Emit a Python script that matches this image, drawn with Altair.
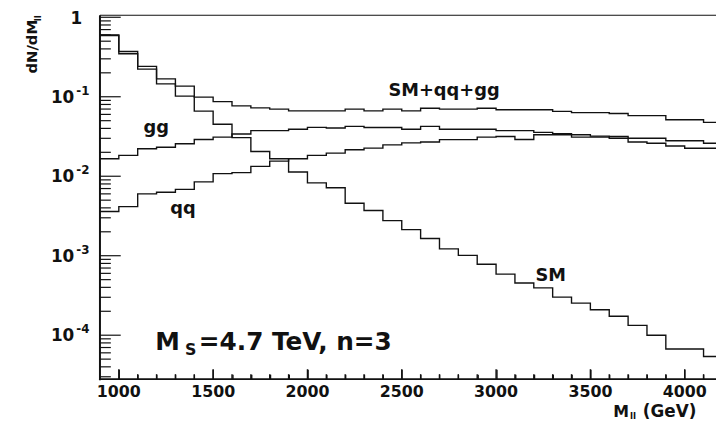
import altair as alt
import pandas as pd

# ---------------- data ----------------
bin_lo = list(range(900, 4200, 100))  # left edges of 100 GeV bins
bin_width = 100

total = [0.60, 0.371, 0.241, 0.168, 0.136, 0.099, 0.0867, 0.0769, 0.0724, 0.0698,
         0.0664, 0.0664, 0.0664, 0.0698, 0.0664, 0.0698, 0.0664, 0.0717, 0.0698, 0.0698,
         0.0717, 0.0686, 0.0686, 0.0686, 0.0655, 0.0632, 0.0632, 0.0616, 0.0578, 0.0578,
         0.0514, 0.0514, 0.0476]
sm = [0.59, 0.347, 0.223, 0.145, 0.102, 0.066, 0.045, 0.0306, 0.0205, 0.0166,
      0.0113, 0.00826, 0.00716, 0.00458, 0.00371, 0.00276, 0.00213, 0.00165, 0.00122, 0.00101,
      0.00078, 0.000586, 0.000453, 0.000394, 0.000301, 0.000253, 0.000209, 0.000173, 0.000133, 0.0001,
      0.000067, 0.000067, 0.000054]
gg = [0.0166, 0.0183, 0.0222, 0.0232, 0.0256, 0.029, 0.031, 0.034, 0.0375, 0.0375,
      0.039, 0.0412, 0.0404, 0.0424, 0.041, 0.041, 0.039, 0.0424, 0.039, 0.039,
      0.039, 0.0375, 0.0375, 0.0356, 0.0342, 0.031, 0.031, 0.030, 0.027, 0.026,
      0.024, 0.0225, 0.0225]
qq = [0.0036, 0.00415, 0.0060, 0.00628, 0.00684, 0.0085, 0.0108, 0.0111, 0.0133, 0.0155,
      0.0166, 0.0183, 0.0195, 0.0215, 0.0226, 0.0248, 0.0263, 0.027, 0.0289, 0.0289,
      0.031, 0.0316, 0.029, 0.0333, 0.0333, 0.0333, 0.032, 0.0316, 0.030, 0.030,
      0.028, 0.028, 0.026]
series = {"SM+qq+gg": total, "SM": sm, "gg": gg, "qq": qq}

x_major = [1000, 1500, 2000, 2500, 3000, 3500, 4000]
x_labels = ["1000", "1500", "2000", "2500", "3000", "3500", "4000"]
x_minor = [m for m in range(1100, 4200, 100) if m % 500 != 0]
y_major = [1e-4, 1e-3, 1e-2, 1e-1, 1.0]
y_minor = [m * 10.0 ** k for k in range(-5, 0) for m in range(2, 10) if m * 10.0 ** k >= 2.8e-5]
y_label_vals = [1e-4, 1e-3, 1e-2, 1e-1]
y_label_exp = ["-4", "-3", "-2", "-1"]

curve_labels = ["SM+qq+gg", "gg", "qq", "SM"]
curve_label_m = [2724, 1199, 1340, 3290]
curve_label_v = [0.102, 0.0347, 0.00337, 0.000484]

# ---------------- layout ----------------
W, H = 623, 368
FONT = "DejaVu Sans"
INK = "#111111"
Y_LO, Y_HI = 2.8e-5, 1.06
DECADE_PX = 80.33  # pixel height of one decade on this log axis

xs = alt.Scale(domain=[900, 4166], nice=False, zero=False)
ys = alt.Scale(type="log", domain=[Y_LO, Y_HI], nice=False)

rows = []
for name, vals in series.items():
    for e, v in zip(bin_lo, vals):
        rows.append({"series": name, "m": e, "v": v})
    rows.append({"series": name, "m": bin_lo[-1] + bin_width, "v": vals[-1]})
df = pd.DataFrame(rows)

lines = alt.Chart(df).mark_line(
    interpolate="step-after", color=INK, strokeWidth=1.4, clip=True
).encode(
    x=alt.X("m:Q", scale=xs, axis=None),
    y=alt.Y("v:Q", scale=ys, axis=None),
    detail="series:N",
)

one = pd.DataFrame({"a": [0]})

# frame: left and bottom axis lines, top line
left = alt.Chart(one).mark_rule(color=INK, strokeWidth=2).encode(
    x=alt.value(0), y=alt.value(0), y2=alt.value(H + 1))
bottom = alt.Chart(one).mark_rule(color=INK, strokeWidth=1.8).encode(
    y=alt.value(H), x=alt.value(-1), x2=alt.value(W))
top = alt.Chart(one).mark_rule(color=INK, strokeWidth=1.2).encode(
    y=alt.value(0), x=alt.value(0), x2=alt.value(W))

# inward y ticks
ymaj = alt.Chart(pd.DataFrame({"v": y_major})).mark_rule(color=INK, strokeWidth=1.2).encode(
    y=alt.Y("v:Q", scale=ys, axis=None), x=alt.value(0), x2=alt.value(21))
ymin = alt.Chart(pd.DataFrame({"v": y_minor})).mark_rule(color=INK, strokeWidth=1.2).encode(
    y=alt.Y("v:Q", scale=ys, axis=None), x=alt.value(0), x2=alt.value(11))

# inward x ticks as rules
maj_top = Y_LO * 10 ** (10 / DECADE_PX)
min_top = Y_LO * 10 ** (5 / DECADE_PX)
xt_df = pd.DataFrame({
    "m": x_major + x_minor,
    "v0": [Y_LO] * (len(x_major) + len(x_minor)),
    "v1": [maj_top] * len(x_major) + [min_top] * len(x_minor),
})
xticks = alt.Chart(xt_df).mark_rule(color=INK, strokeWidth=1.4).encode(
    x=alt.X("m:Q", scale=xs, axis=None),
    y=alt.Y("v0:Q", scale=ys, axis=None),
    y2="v1:Q",
)


# inward x ticks also as axis ticks (top-oriented axis moved onto the bottom line)
def tick_axis(vals, size):
    return alt.Chart(pd.DataFrame({"m": vals})).mark_point(opacity=0).encode(
        x=alt.X("m:Q", scale=xs, axis=alt.Axis(
            orient="top", offset=-H, values=vals, tickSize=size, tickWidth=1.4,
            tickColor=INK, labels=False, domain=False, grid=False, title=None)),
        y=alt.value(H),
    )


xax_major = tick_axis(x_major, 10)
xax_minor = tick_axis(x_minor, 5)

# x tick labels
xlab = alt.Chart(pd.DataFrame({"m": x_major, "t": x_labels})).mark_text(
    align="center", baseline="top", font=FONT, fontSize=16, fontWeight="bold", color=INK
).encode(x=alt.X("m:Q", scale=xs, axis=None), y=alt.value(H + 5), text="t:N")

# y tick labels 10^k
ylab_df = pd.DataFrame({"v": y_label_vals, "exp": y_label_exp})
ylab10 = alt.Chart(ylab_df).mark_text(
    align="right", baseline="middle", font=FONT, fontSize=17, fontWeight="bold", color=INK, dy=1
).encode(y=alt.Y("v:Q", scale=ys, axis=None), x=alt.value(-26), text=alt.value("10"))
ylabexp = alt.Chart(ylab_df).mark_text(
    align="left", baseline="middle", font=FONT, fontSize=12, fontWeight="bold", color=INK, dy=-6
).encode(y=alt.Y("v:Q", scale=ys, axis=None), x=alt.value(-24), text="exp:N")
ylab1 = alt.Chart(pd.DataFrame({"v": [1.0], "t": ["1"]})).mark_text(
    align="right", baseline="middle", font=FONT, fontSize=17, fontWeight="bold", color=INK, dy=2
).encode(y=alt.Y("v:Q", scale=ys, axis=None), x=alt.value(-18), text="t:N")

# curve labels
cl = alt.Chart(pd.DataFrame({"m": curve_label_m, "v": curve_label_v, "t": curve_labels})).mark_text(
    align="center", baseline="alphabetic", font=FONT, fontSize=18, fontWeight="bold", color=INK
).encode(x=alt.X("m:Q", scale=xs, axis=None), y=alt.Y("v:Q", scale=ys, axis=None), text="t:N")

# annotation M_S=4.7 TeV, n=3
annM = alt.Chart(one).mark_text(align="left", baseline="alphabetic", font=FONT, fontSize=25,
                                fontWeight="bold", color=INK).encode(
    x=alt.value(56), y=alt.value(339), text=alt.value("M"))
annS = alt.Chart(one).mark_text(align="left", baseline="alphabetic", font=FONT, fontSize=16,
                                fontWeight="bold", color=INK).encode(
    x=alt.value(86), y=alt.value(344), text=alt.value("S"))
annR = alt.Chart(one).mark_text(align="left", baseline="alphabetic", font=FONT, fontSize=25,
                                fontWeight="bold", color=INK).encode(
    x=alt.value(100), y=alt.value(339), text=alt.value("=4.7 TeV, n=3"))

# x axis title  M_ll (GeV)
xtM = alt.Chart(one).mark_text(align="left", baseline="alphabetic", font=FONT, fontSize=16,
                               fontWeight="bold", color=INK).encode(
    x=alt.value(519), y=alt.value(406), text=alt.value("M"))
xtll = alt.Chart(one).mark_text(align="left", baseline="alphabetic", font=FONT, fontSize=9,
                                fontWeight="bold", color=INK).encode(
    x=alt.value(536), y=alt.value(408), text=alt.value("ll"))
xtG = alt.Chart(one).mark_text(align="left", baseline="alphabetic", font=FONT, fontSize=17,
                               fontWeight="bold", color=INK).encode(
    x=alt.value(549), y=alt.value(406), text=alt.value("(GeV)"))

# y axis title dN/dM_ll (rotated)
ytD = alt.Chart(one).mark_text(align="left", baseline="alphabetic", font=FONT, fontSize=15,
                               fontWeight="bold", color=INK, angle=270).encode(
    x=alt.value(-64), y=alt.value(59), text=alt.value("dN/dM"))
ytll = alt.Chart(one).mark_text(align="left", baseline="alphabetic", font=FONT, fontSize=9,
                                fontWeight="bold", color=INK, angle=270).encode(
    x=alt.value(-60), y=alt.value(6), text=alt.value("ll"))

chart = alt.layer(
    lines, left, bottom, top, ymaj, ymin, xticks, xax_major, xax_minor, xlab,
    ylab10, ylabexp, ylab1, cl,
    annM, annS, annR, xtM, xtll, xtG, ytD, ytll
).resolve_axis(x="independent").properties(
    width=W, height=H,
    autosize=alt.AutoSizeParams(type="none"),
    padding={"left": 93, "top": 5, "right": 0, "bottom": 41},
    background="white",
).configure_view(stroke=None)

chart.save("out.html", embed_options={"renderer": "svg", "actions": False})
